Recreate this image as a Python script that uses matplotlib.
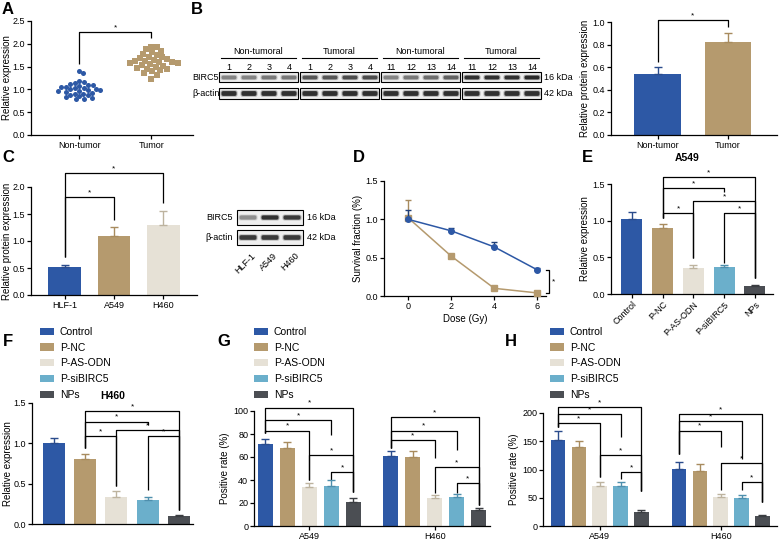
import numpy as np
import matplotlib
matplotlib.use("Agg")
import matplotlib.pyplot as plt
from matplotlib.patches import FancyBboxPatch, Rectangle, Patch

plt.rcParams["font.family"] = ["Liberation Sans", "DejaVu Sans"]

# ---------------- data ----------------
# A: scatter of relative expression
A_GROUPS = ["Non-tumor", "Tumor"]
A_NON = [1.41, 1.35, 1.18, 1.16, 1.14, 1.12, 1.10, 1.09, 1.07, 1.06, 1.05, 1.03,
         1.02, 1.01, 1.00, 0.99, 0.98, 0.97, 0.96, 0.94, 0.93, 0.91, 0.90, 0.88,
         0.87, 0.85, 0.83, 0.82, 0.80, 0.78]
A_TUM = [1.94, 1.93, 1.88, 1.85, 1.82, 1.78, 1.75, 1.72, 1.70, 1.68, 1.66, 1.65,
         1.63, 1.62, 1.60, 1.60, 1.58, 1.57, 1.55, 1.53, 1.52, 1.50, 1.48, 1.45,
         1.44, 1.42, 1.40, 1.35, 1.32, 1.22]

# B: western blot (band intensity 0..1) + bar chart
B_GROUPS = ["Non-tumoral", "Tumoral", "Non-tumoral", "Tumoral"]
B_LANES = [["1", "2", "3", "4"], ["1", "2", "3", "4"],
           ["11", "12", "13", "14"], ["11", "12", "13", "14"]]
B_BIRC5 = [[0.55, 0.55, 0.60, 0.60], [0.75, 0.75, 0.80, 0.80],
           [0.55, 0.60, 0.65, 0.70], [0.92, 0.92, 0.92, 0.95]]
B_ACTIN = [[0.92, 0.92, 0.92, 0.92], [0.92, 0.92, 0.92, 0.92],
           [0.92, 0.92, 0.92, 0.92], [0.92, 0.92, 0.92, 0.92]]
B_CATS = ["Non-tumor", "Tumor"]
B_VALS = [0.54, 0.82]
B_ERR = [0.06, 0.08]

# C: cell lines
C_CATS = ["HLF-1", "A549", "H460"]
C_VALS = [0.52, 1.10, 1.30]
C_ERR = [0.04, 0.16, 0.25]
C_BIRC5 = [0.50, 0.92, 0.88]
C_ACTIN = [0.88, 0.88, 0.88]

# D: survival fraction
D_DOSE = [0, 2, 4, 6]
D_BLUE = [1.00, 0.85, 0.64, 0.34]
D_BLUE_ERR = [0.12, 0.04, 0.06, 0.02]
D_TAN = [1.02, 0.52, 0.10, 0.04]
D_TAN_ERR = [0.23, 0.02, 0.02, 0.01]

# E-H: treatment groups
GROUPS5 = ["Control", "P-NC", "P-AS-ODN", "P-siBIRC5", "NPs"]
E_VALS = [1.02, 0.90, 0.36, 0.37, 0.11]
E_ERR = [0.10, 0.05, 0.03, 0.03, 0.01]
F_VALS = [1.00, 0.80, 0.33, 0.30, 0.10]
F_ERR = [0.07, 0.07, 0.08, 0.04, 0.01]
CELLS = ["A549", "H460"]
G_A549 = [71, 68, 34, 35, 21]
G_A549_ERR = [5, 5, 3, 5, 3]
G_H460 = [61, 60, 24, 25, 14]
G_H460_ERR = [4, 5, 3, 3, 2]
H_A549 = [152, 140, 71, 70, 24]
H_A549_ERR = [17, 10, 6, 7, 4]
H_H460 = [101, 98, 51, 50, 17]
H_H460_ERR = [12, 11, 5, 5, 2]

# significance brackets: (i, j, bar height, left leg end, right leg end)
A_CMP = [(0, 1, 2.26, 1.55, 2.13)]
B_CMP = [(0, 1, 1.02, 0.65, 0.96)]
C_CMP = [(0, 2, 2.26, 0.70, 1.70), (0, 1, 1.81, 0.70, 1.39)]
E_CMP = [(1, 4, 1.60, 1.04, 0.22), (1, 3, 1.44, 1.04, 1.39), (2, 4, 1.27, 0.49, 0.22),
         (1, 2, 1.11, 1.04, 0.49), (3, 4, 1.11, 0.42, 0.22)]
F_CMP = [(1, 4, 1.40, 0.94, 0.17), (1, 3, 1.27, 0.94, 1.23), (2, 4, 1.16, 0.47, 0.17),
         (1, 2, 1.09, 0.94, 0.47), (3, 4, 1.09, 0.42, 0.17)]
G_CMP_A549 = [(0, 4, 103, 81, 30), (0, 3, 92, 81, 79), (0, 2, 83, 81, 40),
              (2, 4, 62, 40, 30), (3, 4, 47, 40, 30)]
G_CMP_H460 = [(0, 4, 95, 68, 18), (0, 3, 83, 68, 66), (0, 2, 75, 68, 59),
              (2, 4, 51, 29, 18), (3, 4, 37, 29, 18)]
H_CMP_A549 = [(0, 4, 211, 175, 62), (0, 3, 198, 175, 158), (0, 2, 183, 175, 87),
              (2, 4, 126, 87, 62), (3, 4, 95, 84, 62)]
H_CMP_H460 = [(0, 4, 198, 128, 43), (0, 3, 185, 128, 119), (0, 2, 169, 128, 140),
              (2, 4, 111, 64, 43), (3, 4, 78, 64, 43)]

# ---------------- style ----------------
BLUE, TAN, BEIGE, LBLUE, DGRAY = "#2D58A5", "#B59A6E", "#E6E1D6", "#6BAFCB", "#4B4E53"
COLORS5 = [BLUE, TAN, BEIGE, LBLUE, DGRAY]
ERRC5 = ["#2A4C8C", "#A88B5E", "#BDB39F", "#4E8FAD", "#3A3D41"]
TICK_FS, LAB_FS, LET_FS = 6.5, 7, 12

W, H = 779, 541
fig = plt.figure(figsize=(W / 100, H / 100), dpi=100)


def px_axes(x0, y0, x1, y1):
    return fig.add_axes([x0 / W, 1 - y1 / H, (x1 - x0) / W, (y1 - y0) / H])


def style(ax):
    for s in ("top", "right"):
        ax.spines[s].set_visible(False)
    for s in ("left", "bottom"):
        ax.spines[s].set_linewidth(0.9)
    ax.tick_params(length=3, width=0.9, labelsize=TICK_FS, pad=1.2)
    ax.patch.set_visible(False)


def bars(ax, x, vals, errs, colors, errc, width):
    ax.bar(x, vals, width=width, color=colors, lw=0, zorder=2)
    for xi, v, e, c in zip(x, vals, errs, errc):
        ax.errorbar(xi, v, yerr=[[0], [e]], fmt="none", ecolor=c,
                    elinewidth=1.0, capsize=3.2, capthick=1.0, zorder=3)


def bracket(ax, xa, xb, y, ya, yb):
    ax.plot([xa, xa, xb, xb], [ya, y, y, yb], color="k", lw=0.9,
            clip_on=False, solid_capstyle="butt")
    ax.annotate("*", xy=((xa + xb) / 2, y), xytext=(0, 0.5),
                textcoords="offset points", ha="center", va="bottom",
                fontsize=6, annotation_clip=False)


def swarm(vals, ax, d_px):
    p0 = ax.transData.transform((0, 0))
    p1 = ax.transData.transform((1, 1))
    sx, sy = p1[0] - p0[0], p1[1] - p0[1]
    placed = []
    out = np.zeros(len(vals))
    for i in np.argsort(vals)[::-1]:
        y = vals[i] * sy
        cands = [0.0]
        for px, py in placed:
            dy = y - py
            if abs(dy) < d_px:
                dx = np.sqrt(d_px ** 2 - dy ** 2)
                cands += [px + dx, px - dx]
        cands.sort(key=abs)
        for c in cands:
            if all((c - px) ** 2 + (y - py) ** 2 >= d_px ** 2 - 1e-6 for px, py in placed):
                break
        placed.append((c, y))
        out[i] = c / sx
    return out


# ---------------- A ----------------
axA = px_axes(31, 21, 193, 135)
style(axA)
axA.set_xlim(-0.667, 1.58)
axA.set_ylim(0, 2.5)
axA.set_yticks(np.arange(0, 2.51, 0.5))
axA.yaxis.set_major_formatter(matplotlib.ticker.FormatStrFormatter("%.1f"))
axA.set_xticks([0, 1], A_GROUPS)
axA.set_ylabel("Relative expression", fontsize=LAB_FS, labelpad=0.5)
offn = swarm(np.array(A_NON), axA, 4.8)
offt = swarm(np.array(A_TUM), axA, 5.6)
axA.scatter(0 + offn, A_NON, s=13, marker="o", color=BLUE, lw=0, zorder=3)
axA.scatter(1 + offt, A_TUM, s=16, marker="s", color=TAN, lw=0, zorder=3)
for c in A_CMP:
    bracket(axA, *c)

# ---------------- B bar ----------------
axB = px_axes(611, 22, 777, 135)
style(axB)
axB.set_xlim(-0.67, 1.7)
axB.set_ylim(0, 1.0)
axB.set_yticks(np.arange(0, 1.01, 0.2))
axB.yaxis.set_major_formatter(matplotlib.ticker.FormatStrFormatter("%.1f"))
axB.set_xticks([0, 1], B_CATS)
axB.set_ylabel("Relative protein expression", fontsize=LAB_FS, labelpad=2)
bars(axB, [0, 1], B_VALS, B_ERR, [BLUE, TAN], ["#2A4C8C", "#A88B5E"], 0.67)
for c in B_CMP:
    bracket(axB, *c)

# ---------------- C bar ----------------
axC = px_axes(31, 187, 197, 295)
style(axC)
axC.set_xlim(-0.69, 2.69)
axC.set_ylim(0, 2.0)
axC.set_yticks(np.arange(0, 2.01, 0.5))
axC.yaxis.set_major_formatter(matplotlib.ticker.FormatStrFormatter("%.1f"))
axC.set_xticks([0, 1, 2], C_CATS)
axC.set_ylabel("Relative protein expression", fontsize=LAB_FS, labelpad=0.5)
bars(axC, [0, 1, 2], C_VALS, C_ERR, [BLUE, TAN, BEIGE], ["#2A4C8C", "#A88B5E", "#BDB39F"], 0.67)
for c in C_CMP:
    bracket(axC, *c)

# ---------------- D ----------------
axD = px_axes(384, 181, 546, 296)
style(axD)
axD.set_xlim(-1.12, 6.4)
axD.set_ylim(0, 1.5)
axD.set_yticks(np.arange(0, 1.51, 0.5))
axD.yaxis.set_major_formatter(matplotlib.ticker.FormatStrFormatter("%.1f"))
axD.set_xticks(D_DOSE)
axD.set_xlabel("Dose (Gy)", fontsize=LAB_FS, labelpad=2)
axD.set_ylabel("Survival fraction (%)", fontsize=LAB_FS, labelpad=2)
axD.errorbar(D_DOSE, D_TAN, yerr=[[0] * 4, D_TAN_ERR], color=TAN, ecolor="#A88B5E",
             marker="s", ms=4, lw=1.1, elinewidth=1, capsize=2.5, clip_on=False, zorder=3)
axD.errorbar(D_DOSE, D_BLUE, yerr=[[0] * 4, D_BLUE_ERR], color=BLUE, ecolor="#1F3F78",
             marker="o", ms=4, lw=1.1, elinewidth=1, capsize=2.5, clip_on=False, zorder=4)
axD.plot([6.38, 6.52, 6.52, 6.38], [D_BLUE[-1], D_BLUE[-1], D_TAN[-1], D_TAN[-1]],
         color="k", lw=0.9, clip_on=False)
axD.text(6.75, (D_BLUE[-1] + D_TAN[-1]) / 2, "*", fontsize=6, ha="center", va="center")

# ---------------- E ----------------
axE = px_axes(611, 184, 773, 294)
style(axE)
axE.set_xlim(-0.68, 4.59)
axE.set_ylim(0, 1.5)
axE.set_yticks(np.arange(0, 1.51, 0.5))
axE.yaxis.set_major_formatter(matplotlib.ticker.FormatStrFormatter("%.1f"))
axE.set_xticks(range(5))
axE.set_xticklabels(GROUPS5, rotation=45, ha="right", rotation_mode="anchor")
axE.set_ylabel("Relative expression", fontsize=LAB_FS, labelpad=2)
bars(axE, range(5), E_VALS, E_ERR, COLORS5, ERRC5, 0.68)
for c in E_CMP:
    bracket(axE, *c)

# ---------------- F ----------------
axF = px_axes(32, 403, 193, 524)
style(axF)
axF.set_xlim(-0.70, 4.45)
axF.set_ylim(0, 1.5)
axF.set_yticks(np.arange(0, 1.51, 0.5))
axF.yaxis.set_major_formatter(matplotlib.ticker.FormatStrFormatter("%.1f"))
axF.set_xticks([])
axF.set_ylabel("Relative expression", fontsize=LAB_FS, labelpad=0.5)
bars(axF, range(5), F_VALS, F_ERR, COLORS5, ERRC5, 0.70)
for c in F_CMP:
    bracket(axF, *c)


# ---------------- G / H ----------------
def grouped(ax, a_vals, a_err, h_vals, h_err, cmp_a, cmp_h, gap, width):
    xa = np.arange(5)
    xh = np.arange(5) + gap
    bars(ax, xa, a_vals, a_err, COLORS5, ERRC5, width)
    bars(ax, xh, h_vals, h_err, COLORS5, ERRC5, width)
    for i, j, y, ya, yb in cmp_a:
        bracket(ax, xa[i], xa[j], y, ya, yb)
    for i, j, y, ya, yb in cmp_h:
        bracket(ax, xh[i], xh[j], y, ya, yb)
    ax.set_xticks([2, 2 + gap], CELLS)


axG = px_axes(254, 411, 490, 526)
style(axG)
axG.set_xlim(-0.5, 10.2)
axG.set_ylim(0, 100)
axG.set_yticks(np.arange(0, 101, 20))
axG.set_ylabel("Positive rate (%)", fontsize=LAB_FS, labelpad=2)
grouped(axG, G_A549, G_A549_ERR, G_H460, G_H460_ERR, G_CMP_A549, G_CMP_H460, 5.7, 0.68)

axH = px_axes(543, 413, 777, 526)
style(axH)
axH.set_xlim(-0.72, 10.5)
axH.set_ylim(0, 200)
axH.set_yticks(np.arange(0, 201, 50))
axH.set_ylabel("Positive rate (%)", fontsize=LAB_FS, labelpad=2)
grouped(axH, H_A549, H_A549_ERR, H_H460, H_H460_ERR, H_CMP_A549, H_CMP_H460, 5.8, 0.70)

# legends
handles = [Patch(color=c, lw=0) for c in COLORS5]
for lx in (40, 254, 550):
    fig.legend(handles, GROUPS5, loc="upper left", bbox_to_anchor=(lx / W, 1 - 327 / H),
               frameon=False, fontsize=7.5, handlelength=1.3, handleheight=0.7,
               handletextpad=0.6, labelspacing=0.55, borderpad=0, borderaxespad=0)

# ---------------- overlay: letters, titles, blots ----------------
ov = fig.add_axes([0, 0, 1, 1])
ov.set_xlim(0, W)
ov.set_ylim(H, 0)
ov.axis("off")
ov.patch.set_visible(False)

for let, x, y in [("A", 8, 9), ("B", 197, 9), ("C", 8, 158), ("D", 359, 158),
                  ("E", 587, 158), ("F", 8, 342), ("G", 224, 342), ("H", 511, 341)]:
    ov.text(x, y, let, fontsize=LET_FS, fontweight="bold", ha="center", va="center")
ov.text(687, 158, "A549", fontsize=7.5, fontweight="bold", ha="center", va="center")
ov.text(113, 396, "H460", fontsize=7.5, fontweight="bold", ha="center", va="center")


def band(x, y, w, h, inten):
    g = 1 - 0.88 * inten
    ov.add_patch(FancyBboxPatch((x - w / 2 - 1, y - h / 2 - 0.8), w + 2, h + 1.6,
                 boxstyle="round,pad=0,rounding_size=2", fc=(g, g, g), ec="none", alpha=0.35))
    ov.add_patch(FancyBboxPatch((x - w / 2, y - h / 2), w, h,
                 boxstyle="round,pad=0,rounding_size=1.8", fc=(g, g, g), ec="none"))


def blot_box(x0, y0, x1, y1):
    ov.add_patch(Rectangle((x0, y0), x1 - x0, y1 - y0, fc="#efefef", ec="k", lw=0.8))


# B blot
box_x = [219, 300, 381, 462]
for k in range(4):
    bx = box_x[k]
    blot_box(bx, 72, bx + 79, 82)
    blot_box(bx, 88, bx + 79, 99)
    ov.plot([bx + 2, bx + 77], [58, 58], color="k", lw=0.8)
    ov.text(bx + 39.5, 51, B_GROUPS[k], fontsize=TICK_FS, ha="center", va="center")
    for m in range(4):
        lx = bx + 10 + 20 * m
        ov.text(lx, 67, B_LANES[k][m], fontsize=TICK_FS, ha="center", va="center")
        band(lx, 77.5, 15, 3.8, B_BIRC5[k][m])
        band(lx, 93.5, 15, 4.8, B_ACTIN[k][m])
ov.text(192, 77, "BIRC5", fontsize=TICK_FS, ha="left", va="center")
ov.text(192, 94, "β-actin", fontsize=TICK_FS, ha="left", va="center")
ov.text(544, 77, "16 kDa", fontsize=TICK_FS, ha="left", va="center")
ov.text(544, 94, "42 kDa", fontsize=TICK_FS, ha="left", va="center")

# C blot
blot_box(237, 210, 303, 225)
blot_box(237, 230, 303, 245)
for m in range(3):
    lx = 248 + 22 * m
    band(lx, 217.5, 17, 4.2, C_BIRC5[m])
    band(lx, 237.5, 17, 4.6, C_ACTIN[m])
    ov.text(lx + 3, 251, C_CATS[m], fontsize=TICK_FS, rotation=45, ha="right", va="top",
            rotation_mode="anchor")
ov.text(233, 217.5, "BIRC5", fontsize=TICK_FS, ha="right", va="center")
ov.text(233, 237.5, "β-actin", fontsize=TICK_FS, ha="right", va="center")
ov.text(307, 217.5, "16 kDa", fontsize=TICK_FS, ha="left", va="center")
ov.text(307, 237.5, "42 kDa", fontsize=TICK_FS, ha="left", va="center")

fig.savefig("out.png", dpi=100)
